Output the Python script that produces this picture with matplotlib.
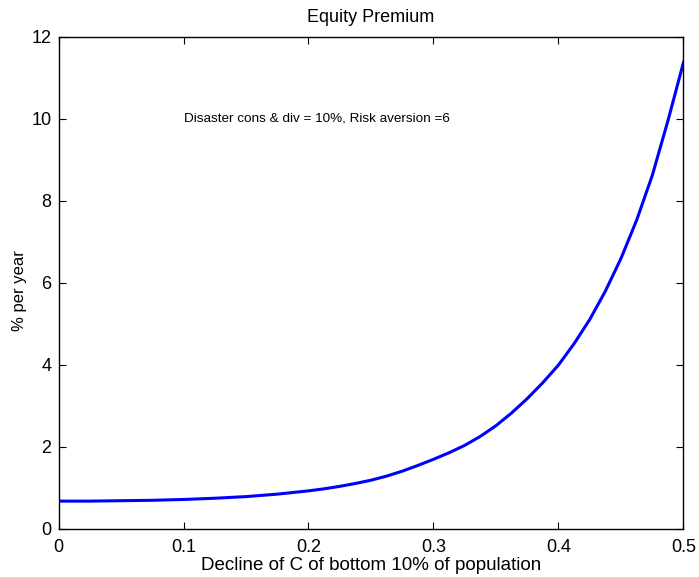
import matplotlib
matplotlib.use("Agg")
import matplotlib.pyplot as plt

decline = [0.0, 0.025, 0.05, 0.075, 0.1, 0.125, 0.15, 0.175, 0.2, 0.2125, 0.225,
           0.2375, 0.25, 0.2625, 0.275, 0.2875, 0.3, 0.3125, 0.325, 0.3375, 0.35,
           0.3625, 0.375, 0.3875, 0.4, 0.4125, 0.425, 0.4375, 0.45, 0.4625,
           0.475, 0.4875, 0.5]
premium = [0.68, 0.68, 0.69, 0.70, 0.72, 0.75, 0.79, 0.85, 0.93, 0.98, 1.04,
           1.11, 1.19, 1.29, 1.41, 1.55, 1.70, 1.86, 2.04, 2.26, 2.52,
           2.83, 3.18, 3.57, 4.00, 4.52, 5.11, 5.80, 6.60, 7.53,
           8.62, 9.95, 11.38]
xticks = [0, 0.1, 0.2, 0.3, 0.4, 0.5]
xticklabels = ["0", "0.1", "0.2", "0.3", "0.4", "0.5"]
yticks = [0, 2, 4, 6, 8, 10, 12]

plt.rcParams['font.family'] = ['Liberation Sans', 'DejaVu Sans']
fig = plt.figure(figsize=(6.99, 5.77), dpi=100)
ax = fig.add_axes([0.0837, 0.0832, 0.9778 - 0.0837, 0.9359 - 0.0832])
ax.plot(decline, premium, color='#0000ff', linewidth=2.2)
ax.set_xlim(0, 0.5)
ax.set_ylim(0, 12)
ax.set_xticks(xticks)
ax.set_xticklabels(xticklabels)
ax.set_yticks(yticks)
ax.tick_params(direction='in', length=5, width=0.8, top=True, right=True,
               labelsize=13, pad=5)
ax.tick_params(axis='x', pad=7)
for s in ax.spines.values():
    s.set_linewidth(1.0)
ax.set_title("Equity Premium", fontsize=13, pad=11)
ax.set_xlabel("Decline of C of bottom 10% of population", fontsize=13.5, labelpad=1)
ax.set_ylabel("% per year", fontsize=12)
ax.yaxis.set_label_coords(-0.05, 0.484)
ax.text(0.1, 10, "Disaster cons & div = 10%, Risk aversion =6", fontsize=9.7,
        ha='left', va='center')
fig.savefig("out.png", dpi=100)
